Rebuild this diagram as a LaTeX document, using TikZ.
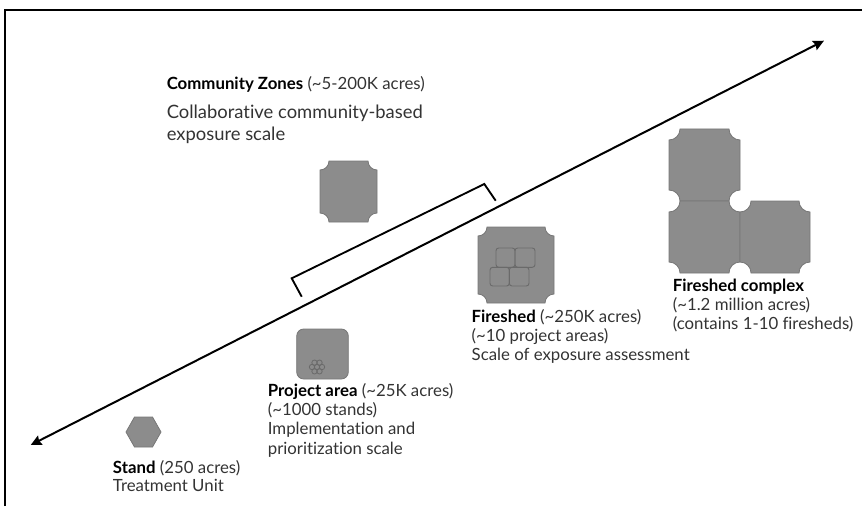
\documentclass[tikz,border=0pt]{standalone}
\usepackage{fontspec}
\setmainfont{Lato}[Ligatures={NoCommon}]
\usetikzlibrary{arrows.meta}
\definecolor{tilefill}{HTML}{8C8C8C}
\definecolor{tileedge}{HTML}{777777}
\definecolor{innerline}{HTML}{6A6A6A}
\definecolor{txt}{HTML}{333333}
\newcommand\tilepath[5]{(#1+#5,#2) -- (#3-#5,#2) arc[start angle=180,end angle=90,radius=#5] -- (#3,#4-#5) arc[start angle=270,end angle=180,radius=#5] -- (#1+#5,#4) arc[start angle=0,end angle=-90,radius=#5] -- (#1,#2+#5) arc[start angle=90,end angle=0,radius=#5] -- cycle}
\tikzset{
  tile/.style={fill=tilefill, draw=tileedge, line width=0.6pt},
  innersq/.style={draw=innerline, line width=0.7pt, rounded corners=2pt},
  petal/.style={draw=innerline, line width=0.6pt},
  axisline/.style={line width=1.5pt, {Stealth[length=8pt,width=7.5pt,inset=1pt]}-{Stealth[length=8pt,width=7.5pt,inset=1pt]}},
  bracketline/.style={line width=1.4pt, line join=miter},
  frameline/.style={line width=1.6pt},
  lbl/.style={anchor=base west, inner sep=0pt, text=txt, font=\fontsize{12.6}{15}\selectfont},
  lblbig/.style={anchor=base west, inner sep=0pt, text=txt, font=\fontsize{13.8}{16}\selectfont},
}
\newcommand\bt[1]{\textbf{\color{black}#1}}
\begin{document}
\begin{tikzpicture}[x=0.75pt,y=-0.75pt]
\useasboundingbox (0,0) rectangle (862,506);
% frame (top and left edges visible)
\coordinate (fbl) at (4.7,506);
\coordinate (ftl) at (4.7,10);
\coordinate (ftr) at (862,10);
\draw[frameline] (fbl) -- (ftl) -- (ftr);
% main axis
\coordinate (lo) at (30.7,445);
\coordinate (hi) at (824,40.7);
\draw[axisline] (lo) -- (hi);
% bracket
\coordinate (b1) at (301.7,296.7);
\coordinate (b2) at (291.7,278.3);
\coordinate (b3) at (484.3,184);
\coordinate (b4) at (495.7,200.7);
\draw[bracketline] (b1) -- (b2) -- (b3) -- (b4);
% stand hexagon
\draw[tile] (126,432) -- (134.5,417) -- (152.5,417) -- (161,432) -- (152.5,447) -- (134.5,447) -- cycle;
% project area
\draw[tile, rounded corners=5.25pt] (296.7,329) rectangle (348.3,379);
\foreach \dx/\dy in {0/0,5/0,-5/0,2.5/4.33,-2.5/4.33,2.5/-4.33,-2.5/-4.33}
  \draw[petal] (317+\dx,367+\dy) circle[radius=2.7];
% community zone
\draw[tile] \tilepath{320}{161}{377}{222}{9};
% fireshed
\draw[tile] \tilepath{478}{227}{554}{303}{9};
\draw[innersq] (496,248) rectangle (515,267.3);
\draw[innersq] (515,248) rectangle (535,267.3);
\draw[innersq] (490,267.3) rectangle (509.3,286);
\draw[innersq] (509.3,267.3) rectangle (529,286);
% fireshed complex
\draw[tile] \tilepath{669}{129}{740}{201}{11};
\draw[tile] \tilepath{669}{201}{740}{273}{11};
\draw[tile] \tilepath{740}{201}{810}{273}{11};
% texts
\node[lbl] (cz1) at (166.5,90) {\bt{Community Zones} (\textasciitilde5-200K acres)};
\node[lblbig] (cz2) at (166.5,118.5) {Collaborative community-based};
\node[lblbig] (cz3) at (166.5,140) {exposure scale};
\node[lbl] (st1) at (112.7,473.3) {\bt{Stand} (250 acres)};
\node[lbl] (st2) at (112.7,491.7) {Treatment Unit};
\node[lbl] (pa1) at (267.6,396) {\bt{Project area} (\textasciitilde25K acres)};
\node[lbl] (pa2) at (267.6,415) {(\textasciitilde1000 stands)};
\node[lbl] (pa3) at (267.6,434.5) {Implementation and};
\node[lbl] (pa4) at (267.6,454) {prioritization scale};
\node[lbl] (fs1) at (471.4,322.5) {\bt{Fireshed} (\textasciitilde250K acres)};
\node[lbl] (fs2) at (471.4,341.5) {(\textasciitilde10 project areas)};
\node[lbl] (fs3) at (471.4,360.5) {Scale of exposure assessment};
\node[lbl] (fc1) at (672.5,291.5) {\bt{Fireshed complex}};
\node[lbl] (fc2) at (672.5,310.5) {(\textasciitilde1.2 million acres)};
\node[lbl] (fc3) at (672.5,329.5) {(contains 1-10 firesheds)};
\end{tikzpicture}
\end{document}
